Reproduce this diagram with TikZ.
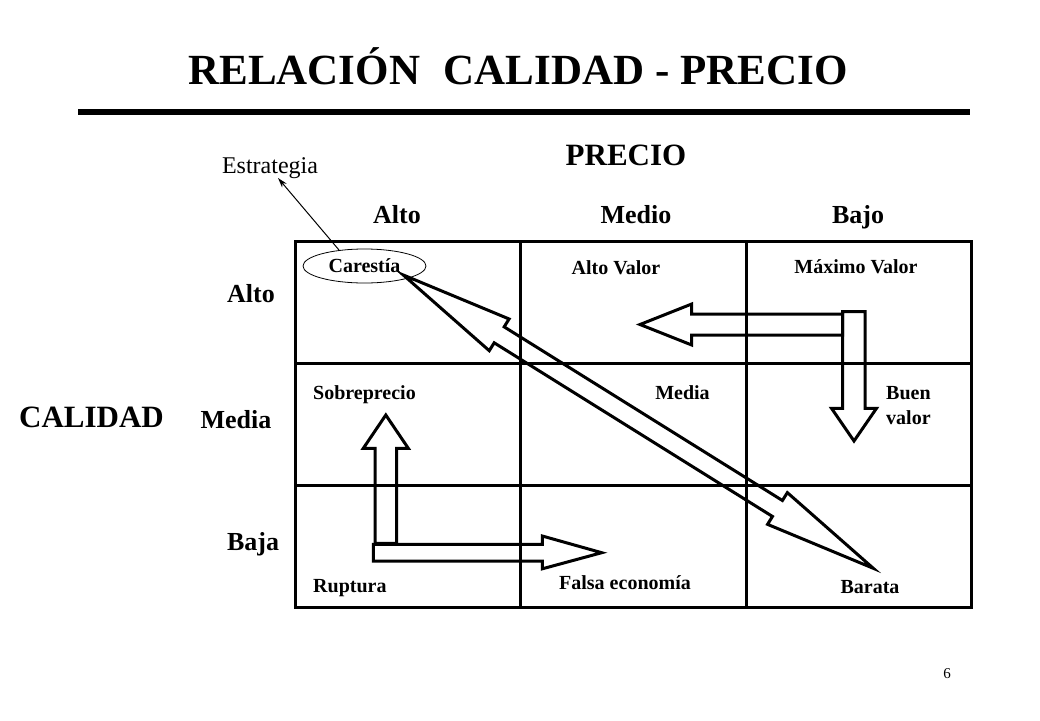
\documentclass[tikz,border=0pt]{standalone}
\usepackage{fontspec}
\setmainfont{Liberation Serif}
\usetikzlibrary{calc,shapes.geometric,arrows.meta}
\begin{document}
\begin{tikzpicture}[x=1pt,y=-1pt,
  ttl/.style={font=\bfseries\fontsize{43}{50}\selectfont, inner sep=0pt},
  axis/.style={font=\bfseries\fontsize{31}{36}\selectfont, inner sep=0pt},
  hdr/.style={font=\bfseries\fontsize{26}{30}\selectfont, inner sep=0pt},
  lbl/.style={font=\bfseries\fontsize{20}{25}\selectfont, inner sep=0pt},
  gridline/.style={line width=3pt},
  blk/.style={draw, line width=3pt, line join=miter, miter limit=20}]
\useasboundingbox[fill=white] (0,0) rectangle (1040,720);

% title and rule
\node[ttl, anchor=base] (title) at (518,84) {RELACIÓN\hspace{0.3em} CALIDAD - PRECIO};
\draw[line width=5.5pt] (78,112) -- (970,112);

% axis titles
\node[axis, anchor=base] (precio) at (626,165) {PRECIO};
\node[axis, anchor=base] (calidad) at (91.5,427) {CALIDAD};

% column headers
\node[hdr, anchor=base] (colalto) at (397,223) {Alto};
\node[hdr, anchor=base] (colmedio) at (636,223) {Medio};
\node[hdr, anchor=base] (colbajo) at (858,223) {Bajo};

% row headers
\node[hdr, anchor=base] (rowalto) at (251,302) {Alto};
\node[hdr, anchor=base] (rowmedia) at (236,428) {Media};
\node[hdr, anchor=base] (rowbaja) at (253,550) {Baja};

% grid
\draw[gridline] (295,241) rectangle (971,607);
\draw[gridline] (520,241) -- (520,607);
\draw[gridline] (746,241) -- (746,607);
\draw[gridline] (295,363) -- (971,363);
\draw[gridline] (295,485) -- (971,485);

% cell labels
\node[lbl, ellipse, draw, line width=0.8pt, minimum width=123pt, minimum height=34pt, inner sep=0pt] (car) at (364.5,266) {Carestía};
\node[lbl, anchor=base] (altovalor) at (616,274) {Alto Valor};
\node[lbl, anchor=base] (maxvalor) at (856,273) {Máximo Valor};
\node[lbl, anchor=base west] (sobre) at (313,399) {Sobreprecio};
\node[lbl, anchor=base] (media) at (682.5,399) {Media};
\node[lbl, anchor=base west] (buen) at (886,399) {Buen};
\node[lbl, anchor=base west] (valor) at (886,424) {valor};
\node[lbl, anchor=base west] (ruptura) at (313,592) {Ruptura};
\node[lbl, anchor=base] (falsa) at (625,589) {Falsa economía};
\node[lbl, anchor=base] (barata) at (870,593) {Barata};

% Estrategia
\node[font=\fontsize{24}{28}\selectfont, inner sep=0pt, anchor=base] (estr) at (270,173) {Estrategia};
\coordinate (estrtip) at (278,178);
\draw[line width=1pt, -{Stealth[length=10pt,width=6pt]}] (car.148) -- (estrtip);

% left block arrow (Maximo Valor -> Alto Valor)
\draw[blk] (842.7,314) -- (691.7,314) -- (691.7,304) -- (640,324.5)
  -- (691.7,345) -- (691.7,335) -- (842.7,335) -- cycle;
% down block arrow (Maximo Valor -> Buen valor)
\draw[blk] (842.7,311.7) -- (865,311.7) -- (865,408.3) -- (876.5,408.3)
  -- (854,441) -- (831.5,408.3) -- (842.7,408.3) -- cycle;
% up block arrow (Ruptura -> Sobreprecio)
\draw[blk] (375,543.3) -- (375,448.3) -- (363.3,448.3) -- (385.8,415)
  -- (408.3,448.3) -- (396.7,448.3) -- (396.7,543.3) -- cycle;
% right block arrow (Ruptura -> Falsa economia)
\draw[blk] (373.3,544.3) -- (542.3,544.3) -- (542.3,536) -- (601.7,552.7)
  -- (542.3,568.8) -- (542.3,561) -- (373.3,561) -- cycle;

% diagonal double block arrow (Carestia <-> Barata)
\coordinate (dA) at (403.3,275);
\coordinate (dB) at (873.3,568.3);
\coordinate (pA) at ($(dA)!113pt!(dB)$);
\coordinate (pB) at ($(dB)!113pt!(dA)$);
\draw[blk] (dA)
  -- ($(pA)!18.7pt!90:(dB)$) -- ($(pA)!9.4pt!90:(dB)$)
  -- ($(pB)!9.4pt!-90:(dA)$) -- ($(pB)!18.7pt!-90:(dA)$)
  -- (dB)
  -- ($(pB)!18.7pt!90:(dA)$) -- ($(pB)!9.4pt!90:(dA)$)
  -- ($(pA)!9.4pt!-90:(dB)$) -- ($(pA)!18.7pt!-90:(dB)$)
  -- cycle;

% page number
\node[font=\fontsize{15}{18}\selectfont, inner sep=0pt, anchor=base] (pnum) at (947,678) {6};
\end{tikzpicture}
\end{document}
